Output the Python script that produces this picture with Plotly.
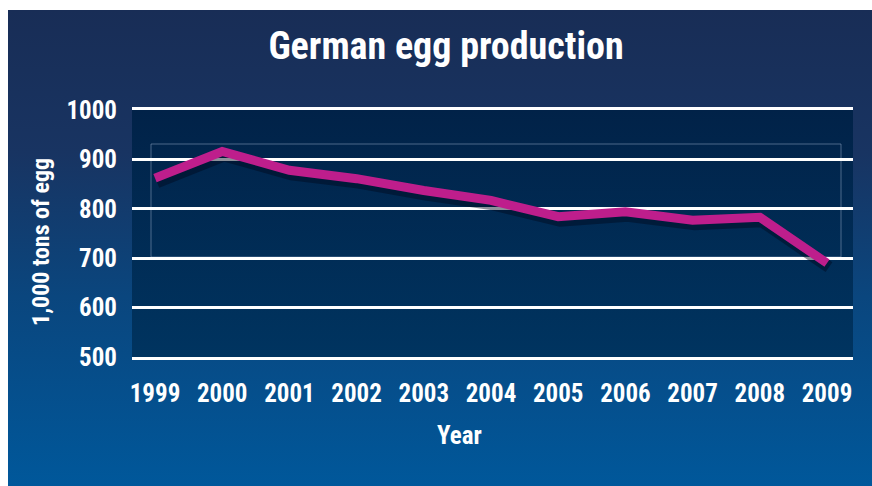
import base64
import plotly.graph_objects as go

# German egg production, 1,000 tons
years = [1999, 2000, 2001, 2002, 2003, 2004, 2005, 2006, 2007, 2008, 2009]
production = [862, 916, 878, 861, 837, 817, 784, 794, 777, 783, 690]
y_tick_values = [500, 600, 700, 800, 900, 1000]
x_tick_labels = [str(y) for y in years]

TITLE = "German egg production"
Y_TITLE = "1,000 tons of egg"
X_TITLE = "Year"

# canvas and plot-area geometry (pixels)
W, H = 872, 486
L, R, T, B = 132, 19, 110, 129
PW, PH = W - L - R, H - T - B
STEP = 67.2                     # pixels per year
X0 = years[0] - 23 / STEP       # left edge of plot area in data units
X1 = X0 + PW / STEP
Y0, Y1 = 500, 1000

FONT = "Roboto Condensed, Open Sans Condensed, sans-serif"
WHITE = "white"


def fx(px):
    return (px - L) / PW


def fy(py):
    return (H - B - py) / PH


def gradient_uri(stops):
    """Vertical linear gradient as an inline SVG data URI."""
    stop_tags = "".join(
        f"<stop offset='{o}' stop-color='rgb({c[0]},{c[1]},{c[2]})'/>" for o, c in stops)
    svg = ("<svg xmlns='http://www.w3.org/2000/svg' width='100' height='100' "
           "viewBox='0 0 100 100' preserveAspectRatio='none'>"
           "<defs><linearGradient id='g' x1='0' y1='0' x2='0' y2='1'>"
           f"{stop_tags}</linearGradient></defs>"
           "<rect width='100' height='100' fill='url(#g)'/></svg>")
    return "data:image/svg+xml;base64," + base64.b64encode(svg.encode()).decode()


panel_stops = [(0.0, (24, 45, 86)), (0.3, (24, 52, 98)), (0.6, (10, 70, 126)), (1.0, (0, 88, 155))]
plot_stops = [(0.0, (1, 34, 72)), (1.0, (0, 52, 96))]

images = [
    # blue panel behind everything
    dict(source=gradient_uri(panel_stops), xref="paper", yref="paper",
         x=fx(8), y=fy(10), sizex=fx(W + 2) - fx(8), sizey=fy(10) - fy(H + 2),
         xanchor="left", yanchor="top", sizing="stretch", layer="below"),
    # darker plot area
    dict(source=gradient_uri(plot_stops), xref="paper", yref="paper",
         x=0, y=1, sizex=1, sizey=1,
         xanchor="left", yanchor="top", sizing="stretch", layer="below"),
]

# faint inner frame
shapes = [dict(type="rect", xref="paper", yref="paper", layer="below",
               x0=fx(151), x1=fx(841), y0=fy(257), y1=fy(144),
               line=dict(width=1, color="rgba(140,160,190,0.55)"), fillcolor="rgba(0,0,0,0)")]

fig = go.Figure()

# soft drop shadow: same series on the base axes, whose ranges are nudged
# so the shadow lands a few pixels right of and below the line
dx = 2 / STEP
dy = 4 * (Y1 - Y0) / PH
fig.add_trace(go.Scatter(x=years, y=production, mode="lines",
                         line=dict(color="rgba(0,8,28,0.45)", width=12),
                         hoverinfo="skip", showlegend=False))

# the production line itself, on overlay axes that carry ticks and grid
fig.add_trace(go.Scatter(x=years, y=production, mode="lines", xaxis="x2", yaxis="y2",
                         line=dict(color="#BE1E8C", width=9),
                         showlegend=False))

tick_font = dict(family=FONT, size=25, color=WHITE, weight="bold")
hidden = dict(showticklabels=False, showgrid=False, zeroline=False, showline=False, ticks="")

fig.update_layout(
    width=W, height=H,
    margin=dict(l=L, r=R, t=T, b=B),
    paper_bgcolor="white",
    plot_bgcolor="rgba(0,0,0,0)",
    images=images,
    shapes=shapes,
    font=dict(family=FONT, color=WHITE, size=25, weight="bold"),
    title=dict(text=TITLE, x=446 / W, xanchor="center", y=1 - 46 / H, yanchor="middle",
               font=dict(family=FONT, size=38, color=WHITE, weight="bold")),
    xaxis=dict(range=[X0 - dx, X1 - dx], **hidden),
    yaxis=dict(range=[Y0 + dy, Y1 + dy], **hidden),
    xaxis2=dict(range=[X0, X1], overlaying="x", side="bottom",
                tickmode="array", tickvals=years, ticktext=x_tick_labels,
                showgrid=False, zeroline=False,
                showline=True, mirror=True, linecolor=WHITE, linewidth=2.5,
                ticks="", ticklabelstandoff=12, tickfont=tick_font),
    yaxis2=dict(range=[Y0, Y1], overlaying="y", side="left",
                tickmode="array", tickvals=y_tick_values,
                showgrid=True, gridcolor=WHITE, gridwidth=2.5,
                zeroline=False, showline=False, ticks="",
                ticklabelstandoff=14, tickfont=tick_font),
    annotations=[
        dict(text=Y_TITLE, xref="paper", yref="paper", x=fx(41), y=fy(242),
             xanchor="center", yanchor="middle", textangle=-90, showarrow=False,
             font=dict(family=FONT, size=24, color=WHITE, weight="bold")),
        dict(text=X_TITLE, xref="paper", yref="paper", x=fx(459), y=fy(435),
             xanchor="center", yanchor="middle", showarrow=False,
             font=dict(family=FONT, size=25, color=WHITE, weight="bold")),
    ],
)

fig.write_html("out.html")
